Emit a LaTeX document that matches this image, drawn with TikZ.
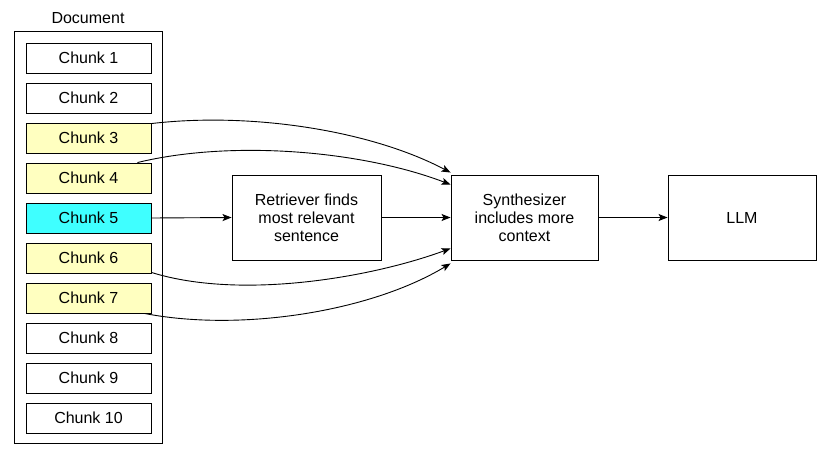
\documentclass[tikz,border=0pt]{standalone}
\usepackage{fontspec}
\setmainfont{Liberation Sans}
\usepackage{xcolor}
\usepackage{tikz}
\usetikzlibrary{arrows.meta,positioning}
\definecolor{ctxc}{HTML}{FFFFC0}
\definecolor{hitc}{HTML}{3FFFFF}
\tikzset{
  ar/.style={-{Stealth[length=9pt,width=7pt,inset=2pt]},line width=0.9pt,black},
  box/.style={draw,line width=0.9pt,align=center,inner sep=0pt,font=\fontsize{16}{18}\selectfont},
  chunk/.style={box,minimum width=125pt,minimum height=30pt},
  stage/.style={box,minimum width=148pt,minimum height=85pt}
}

\begin{document}
\begin{tikzpicture}[x=1pt,y=-1pt]
\useasboundingbox (0,0) rectangle (830,458);
\node[box,draw=none] (doclbl) at (88,18) {Document};
\node[box,minimum width=148pt,minimum height=412pt] (doc) at (88,237) {};
\foreach \n/\c in {1/white,2/white,3/ctxc,4/ctxc,5/hitc,6/ctxc,7/ctxc,8/white,9/white,10/white}
  \node[chunk,fill=\c] (c\n) at (88.5,{58+40*(\n-1)}) {Chunk \n};
\node[stage,minimum width=149pt] (ret) at (306.5,217.5) {Retriever finds\\most relevant\\sentence};
\node[stage,minimum width=147pt] (syn) at (524.5,217.5) {Synthesizer\\includes more\\context};
\node[stage] (llm) at (742,217.5) {LLM};
% straight path
\draw[ar] (c5.east) -- (ret.west);
\draw[ar] (ret.east) -- (syn.west);
\draw[ar] (syn.east) -- (llm.west);
% extra context chunks
\draw[ar] ([yshift=-1pt]c3.north east) .. controls (250,112) and (370,130) .. ([yshift=2pt]syn.north west);
\draw[ar] ([xshift=-14pt]c4.north east) .. controls (230,140) and (360,150) .. ([yshift=-10pt]syn.north west);
\draw[ar] ([yshift=1pt]c6.south east) .. controls (240,300) and (370,278) .. ([yshift=12pt]syn.south west);
\draw[ar] ([xshift=-7pt]c7.south east) .. controls (240,332) and (370,312) .. ([yshift=-3pt]syn.south west);
\end{tikzpicture}
\end{document}
